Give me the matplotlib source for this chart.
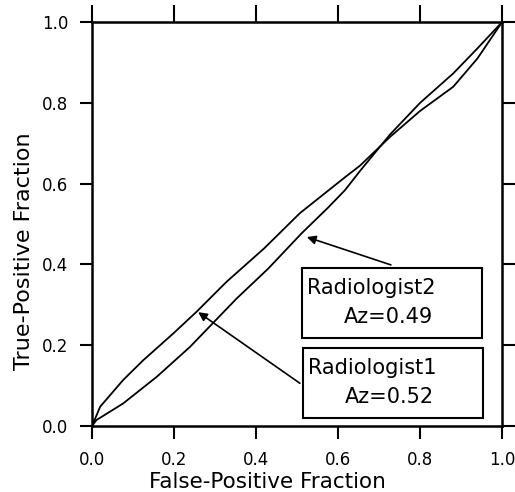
import matplotlib
matplotlib.use("Agg")
import matplotlib.pyplot as plt
from matplotlib.patches import Rectangle

# ROC curves
fpf1 = [0.0, 0.02, 0.076, 0.125, 0.198, 0.255, 0.328, 0.42, 0.507, 0.617, 0.654, 0.727, 0.8, 0.881, 0.94, 1.0]
tpf1 = [0.0, 0.048, 0.114, 0.163, 0.229, 0.283, 0.357, 0.44, 0.527, 0.616, 0.645, 0.716, 0.78, 0.84, 0.91, 1.0]
fpf2 = [0.0, 0.011, 0.076, 0.158, 0.239, 0.353, 0.43, 0.512, 0.575, 0.617, 0.654, 0.727, 0.8, 0.881, 0.94, 1.0]
tpf2 = [0.0, 0.015, 0.056, 0.122, 0.196, 0.316, 0.39, 0.478, 0.54, 0.584, 0.632, 0.722, 0.8, 0.873, 0.935, 1.0]

names = ["Radiologist1", "Radiologist2"]
az_text = ["Az=0.52", "Az=0.49"]
ticks = [0.0, 0.2, 0.4, 0.6, 0.8, 1.0]

fig = plt.figure(figsize=(5.15, 4.92), dpi=100)
ax = fig.add_axes([0.1786, 0.134, 0.7962, 0.821])

ax.plot(fpf1, tpf1, color="black", lw=1.3)
ax.plot(fpf2, tpf2, color="black", lw=1.3)

ax.set_xlim(0, 1)
ax.set_ylim(0, 1)
ax.set_xticks(ticks)
ax.set_yticks(ticks)
ax.set_xticklabels(["%.1f" % t for t in ticks])
ax.set_yticklabels(["%.1f" % t for t in ticks])
ax.tick_params(axis="x", direction="out", length=9, width=1.5, labelsize=12,
               top=True, pad=9)
ax.tick_params(axis="y", direction="out", length=9, width=1.5, labelsize=12,
               right=True, pad=8)
for s in ax.spines.values():
    s.set_linewidth(1.8)

ax.set_xlabel("False-Positive Fraction", fontsize=15.5)
ax.set_ylabel("True-Positive Fraction", fontsize=16)
ax.xaxis.set_label_coords(0.427, -0.114)
ax.yaxis.set_label_coords(-0.142, 0.433)

# label boxes: (x0, y0) lower-left in data units
box_xy = [(0.515, 0.02), (0.512, 0.218)]
box_w, box_h = 0.439, 0.173
arrow_from = [(0.507, 0.106), (0.729, 0.399)]
arrow_to = [(0.259, 0.282), (0.524, 0.468)]

for i in range(2):
    x0, y0 = box_xy[i]
    ax.add_patch(Rectangle((x0, y0), box_w, box_h, fc="white", ec="black",
                           lw=1.5, zorder=3))
    ax.text(x0 + 0.012, y0 + 0.125, names[i], fontsize=15, va="center",
            ha="left", zorder=4)
    ax.text(x0 + 0.102, y0 + 0.052, az_text[i], fontsize=15, va="center",
            ha="left", zorder=4)
    ax.annotate("", xy=arrow_to[i], xytext=arrow_from[i],
                arrowprops=dict(arrowstyle="-|>", color="black", lw=1.2,
                                mutation_scale=13, shrinkA=0, shrinkB=0))

fig.canvas.draw()
# top ticks are a bit longer in the original
for t in ax.xaxis.get_major_ticks():
    t.tick2line.set_markersize(12)

fig.savefig("out.png", dpi=100)
